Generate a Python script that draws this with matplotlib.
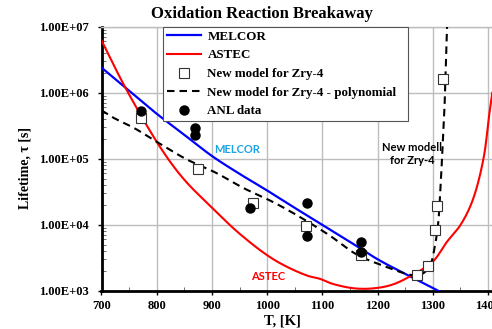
import matplotlib
matplotlib.use("Agg")
import numpy as np
import matplotlib.pyplot as plt
from matplotlib.ticker import FixedLocator, FixedFormatter, LogLocator, NullFormatter, MultipleLocator
from matplotlib.lines import Line2D

# ---------------- data ----------------
melcor_T = [700, 750, 800, 850, 900, 950, 1000, 1050, 1100, 1150, 1200, 1250, 1300, 1315]
melcor_tau = [2.4e6, 1.07e6, 4.8e5, 2.3e5, 1.1e5, 5.9e4, 3.3e4, 1.8e4, 1.0e4, 5.5e3, 3.0e3, 1.8e3, 1.1e3, 9.5e2]

astec_T = [700, 745, 809, 850, 900, 951, 1014, 1072, 1096, 1120, 1168, 1222, 1268, 1301, 1325, 1350, 1372, 1392, 1402, 1408]
astec_tau = [6.2e6, 1.12e6, 1.38e5, 4.8e4, 1.82e4, 7.2e3, 2.9e3, 1.7e3, 1.51e3, 1.26e3, 1.07e3, 1.2e3, 1.82e3, 2.8e3,
             5.4e3, 9.8e3, 2.3e4, 1.0e5, 4.4e5, 1.0e6]

poly_T = [700, 721, 758, 803, 854, 906, 957, 1011, 1060, 1114, 1156, 1180, 1210, 1235, 1259, 1280, 1295, 1304, 1310,
          1314, 1318, 1321, 1323, 1326]
poly_tau = [5.4e5, 4.2e5, 2.95e5, 1.74e5, 9.8e4, 6.2e4, 3.6e4, 2.2e4, 1.3e4, 6.8e3, 3.8e3, 3.0e3, 2.4e3, 2.0e3,
            1.74e3, 1.78e3, 2.4e3, 4.8e3, 1.07e4, 3.5e4, 1.55e5, 4.9e5, 1.6e6, 1.0e7]

newmodel_T = [771, 874, 975, 1070, 1170, 1271, 1292, 1304, 1308, 1319]
newmodel_tau = [4.1e5, 7.1e4, 2.1e4, 9.5e3, 3.5e3, 1.7e3, 2.4e3, 8.3e3, 1.9e4, 1.6e6]

anl_T = [771, 869, 869, 969, 1073, 1073, 1171, 1170]
anl_tau = [5.2e5, 2.9e5, 2.3e5, 1.8e4, 2.1e4, 6.8e3, 5.4e3, 3.9e3]

x_ticks = [700, 800, 900, 1000, 1100, 1200, 1300, 1400]
y_ticks = [1e3, 1e4, 1e5, 1e6, 1e7]
y_tick_labels = ["1.00E+03", "1.00E+04", "1.00E+05", "1.00E+06", "1.00E+07"]

title = "Oxidation Reaction Breakaway"
legend_labels = ["MELCOR", "ASTEC", "New model for Zry-4",
                 "New model for Zry-4 - polynomial", "ANL data"]


def smooth(xs, ys, n=20):
    """Centripetal Catmull-Rom through the points (like a smoothed spreadsheet line)."""
    px = np.asarray(xs, float) / 100.0 * 0.83
    py = np.log10(np.asarray(ys, float))
    P = np.column_stack([px, py])
    P = np.vstack([2 * P[0] - P[1], P, 2 * P[-1] - P[-2]])
    out = [P[1]]
    for i in range(1, len(P) - 2):
        p0, p1, p2, p3 = P[i - 1], P[i], P[i + 1], P[i + 2]
        def tj(ti, a, b):
            return ti + max(np.hypot(*(b - a)), 1e-9) ** 0.5
        t0 = 0.0
        t1 = tj(t0, p0, p1)
        t2 = tj(t1, p1, p2)
        t3 = tj(t2, p2, p3)
        for t in np.linspace(t1, t2, n)[1:]:
            a1 = (t1 - t) / (t1 - t0) * p0 + (t - t0) / (t1 - t0) * p1
            a2 = (t2 - t) / (t2 - t1) * p1 + (t - t1) / (t2 - t1) * p2
            a3 = (t3 - t) / (t3 - t2) * p2 + (t - t2) / (t3 - t2) * p3
            b1 = (t2 - t) / (t2 - t0) * a1 + (t - t0) / (t2 - t0) * a2
            b2 = (t3 - t) / (t3 - t1) * a2 + (t - t1) / (t3 - t1) * a3
            c = (t2 - t) / (t2 - t1) * b1 + (t - t1) / (t2 - t1) * b2
            out.append(c)
    out = np.array(out)
    return out[:, 0] * 100.0 / 0.83, 10 ** out[:, 1]


# ---------------- figure ----------------
W, H = 492, 329
fig = plt.figure(figsize=(W / 100, H / 100), dpi=100)
ax_left, ax_right, ax_top, ax_bottom = 101.5, 492.0, 26.7, 290.7
ax = fig.add_axes([ax_left / W, 1 - ax_bottom / H, (ax_right - ax_left) / W, (ax_bottom - ax_top) / H])

x_px_per_K = (487.9 - 101.5) / 700.0
ax.set_xlim(700, 700 + (ax_right - ax_left) / x_px_per_K)
ax.set_yscale("log")
ax.set_ylim(1e3, 1e7)

serif = ["Liberation Serif", "DejaVu Serif"]

# grid
ax.set_axisbelow(True)
ax.grid(True, which="major", color="#bdbdbd", linewidth=1.0)

# lines
ax.plot(*smooth(melcor_T, melcor_tau), color="#0000ff", lw=1.6, zorder=3)
ax.plot(*smooth(astec_T, astec_tau), color="#ff0000", lw=1.5, zorder=3)
ax.plot(*smooth(poly_T, poly_tau), color="black", lw=1.5, dashes=(3.6, 2.4), zorder=4)
ax.plot(newmodel_T, newmodel_tau, ls="none", marker="s", ms=6.5, mfc="white", mec="#333333", mew=0.8, zorder=5)
ax.plot(anl_T, anl_tau, ls="none", marker="o", ms=6.5, mfc="black", mec="black", zorder=6)

# ticks
ax.xaxis.set_major_locator(FixedLocator(x_ticks))
ax.xaxis.set_minor_locator(MultipleLocator(50))
ax.yaxis.set_major_locator(FixedLocator(y_ticks))
ax.yaxis.set_major_formatter(FixedFormatter(y_tick_labels))
ax.yaxis.set_minor_locator(LogLocator(base=10, subs=range(2, 10)))
ax.yaxis.set_minor_formatter(NullFormatter())
ax.tick_params(which="major", direction="out", length=3, width=1, labelsize=9)
ax.tick_params(axis="y", which="major", pad=6)
ax.tick_params(axis="x", which="major", pad=3.5)
ax.tick_params(which="minor", direction="in", length=3, width=0.6, color="#555555")
for lab in ax.get_xticklabels() + ax.get_yticklabels():
    lab.set_fontfamily(serif)
    lab.set_fontweight("bold")

# spines
ax.spines["left"].set_linewidth(2.0)
ax.spines["bottom"].set_linewidth(2.0)
ax.spines["top"].set_color("#bdbdbd")
ax.spines["top"].set_linewidth(1.0)
ax.spines["right"].set_visible(False)

# title and labels
fig.text(262 / W, 1 - 14 / H, title, ha="center", va="center", fontsize=12,
         fontweight="bold", family=serif)
fig.text(282 / W, 1 - 321 / H, "T, [K]", ha="center", va="center", fontsize=10.5,
         fontweight="bold", family=serif)
fig.text(25 / W, 1 - 168 / H, "Lifetime, τ [s]", ha="center", va="center", fontsize=10,
         fontweight="bold", family=serif, rotation=90)

# annotations (positions in pixels from the top-left corner)
sans = ["Lato", "DejaVu Sans"]
annotations = [
    (237.5, 149.3, "MELCOR", "#1aa3e8"),
    (268, 276.7, "ASTEC", "#ff0000"),
    (412, 154, "New modell\nfor Zry-4", "black"),
]
for x, y, s, c in annotations:
    fig.text(x / W, 1 - y / H, s, fontsize=8, color=c, ha="center", va="center",
             family=sans, fontweight="bold", linespacing=1.2)

# legend
handles = [
    Line2D([], [], color="#0000ff", lw=1.6),
    Line2D([], [], color="#ff0000", lw=1.5),
    Line2D([], [], ls="none", marker="s", ms=6.5, mfc="white", mec="#333333", mew=0.8),
    Line2D([], [], color="black", lw=1.5, dashes=(3.6, 2.4)),
    Line2D([], [], ls="none", marker="o", ms=6.5, mfc="black", mec="black"),
]
ax_w = ax_right - ax_left
ax_h = ax_bottom - ax_top
leg_x0 = (163 - ax_left) / ax_w
leg_x1 = (408 - ax_left) / ax_w
leg_y1 = 1.0
leg_y0 = (ax_bottom - 121) / ax_h
leg = ax.legend(handles, legend_labels, loc="upper left",
                bbox_to_anchor=(leg_x0, leg_y0, leg_x1 - leg_x0, leg_y1 - leg_y0),
                mode="expand", borderaxespad=0, fancybox=False, framealpha=1,
                edgecolor="#555555", handlelength=2.6, handletextpad=0.5,
                labelspacing=0.5, borderpad=0.3,
                prop={"family": serif, "weight": "bold", "size": 9.4})
leg.get_frame().set_linewidth(0.8)
leg.set_zorder(10)

fig.savefig("out.png", dpi=100)
